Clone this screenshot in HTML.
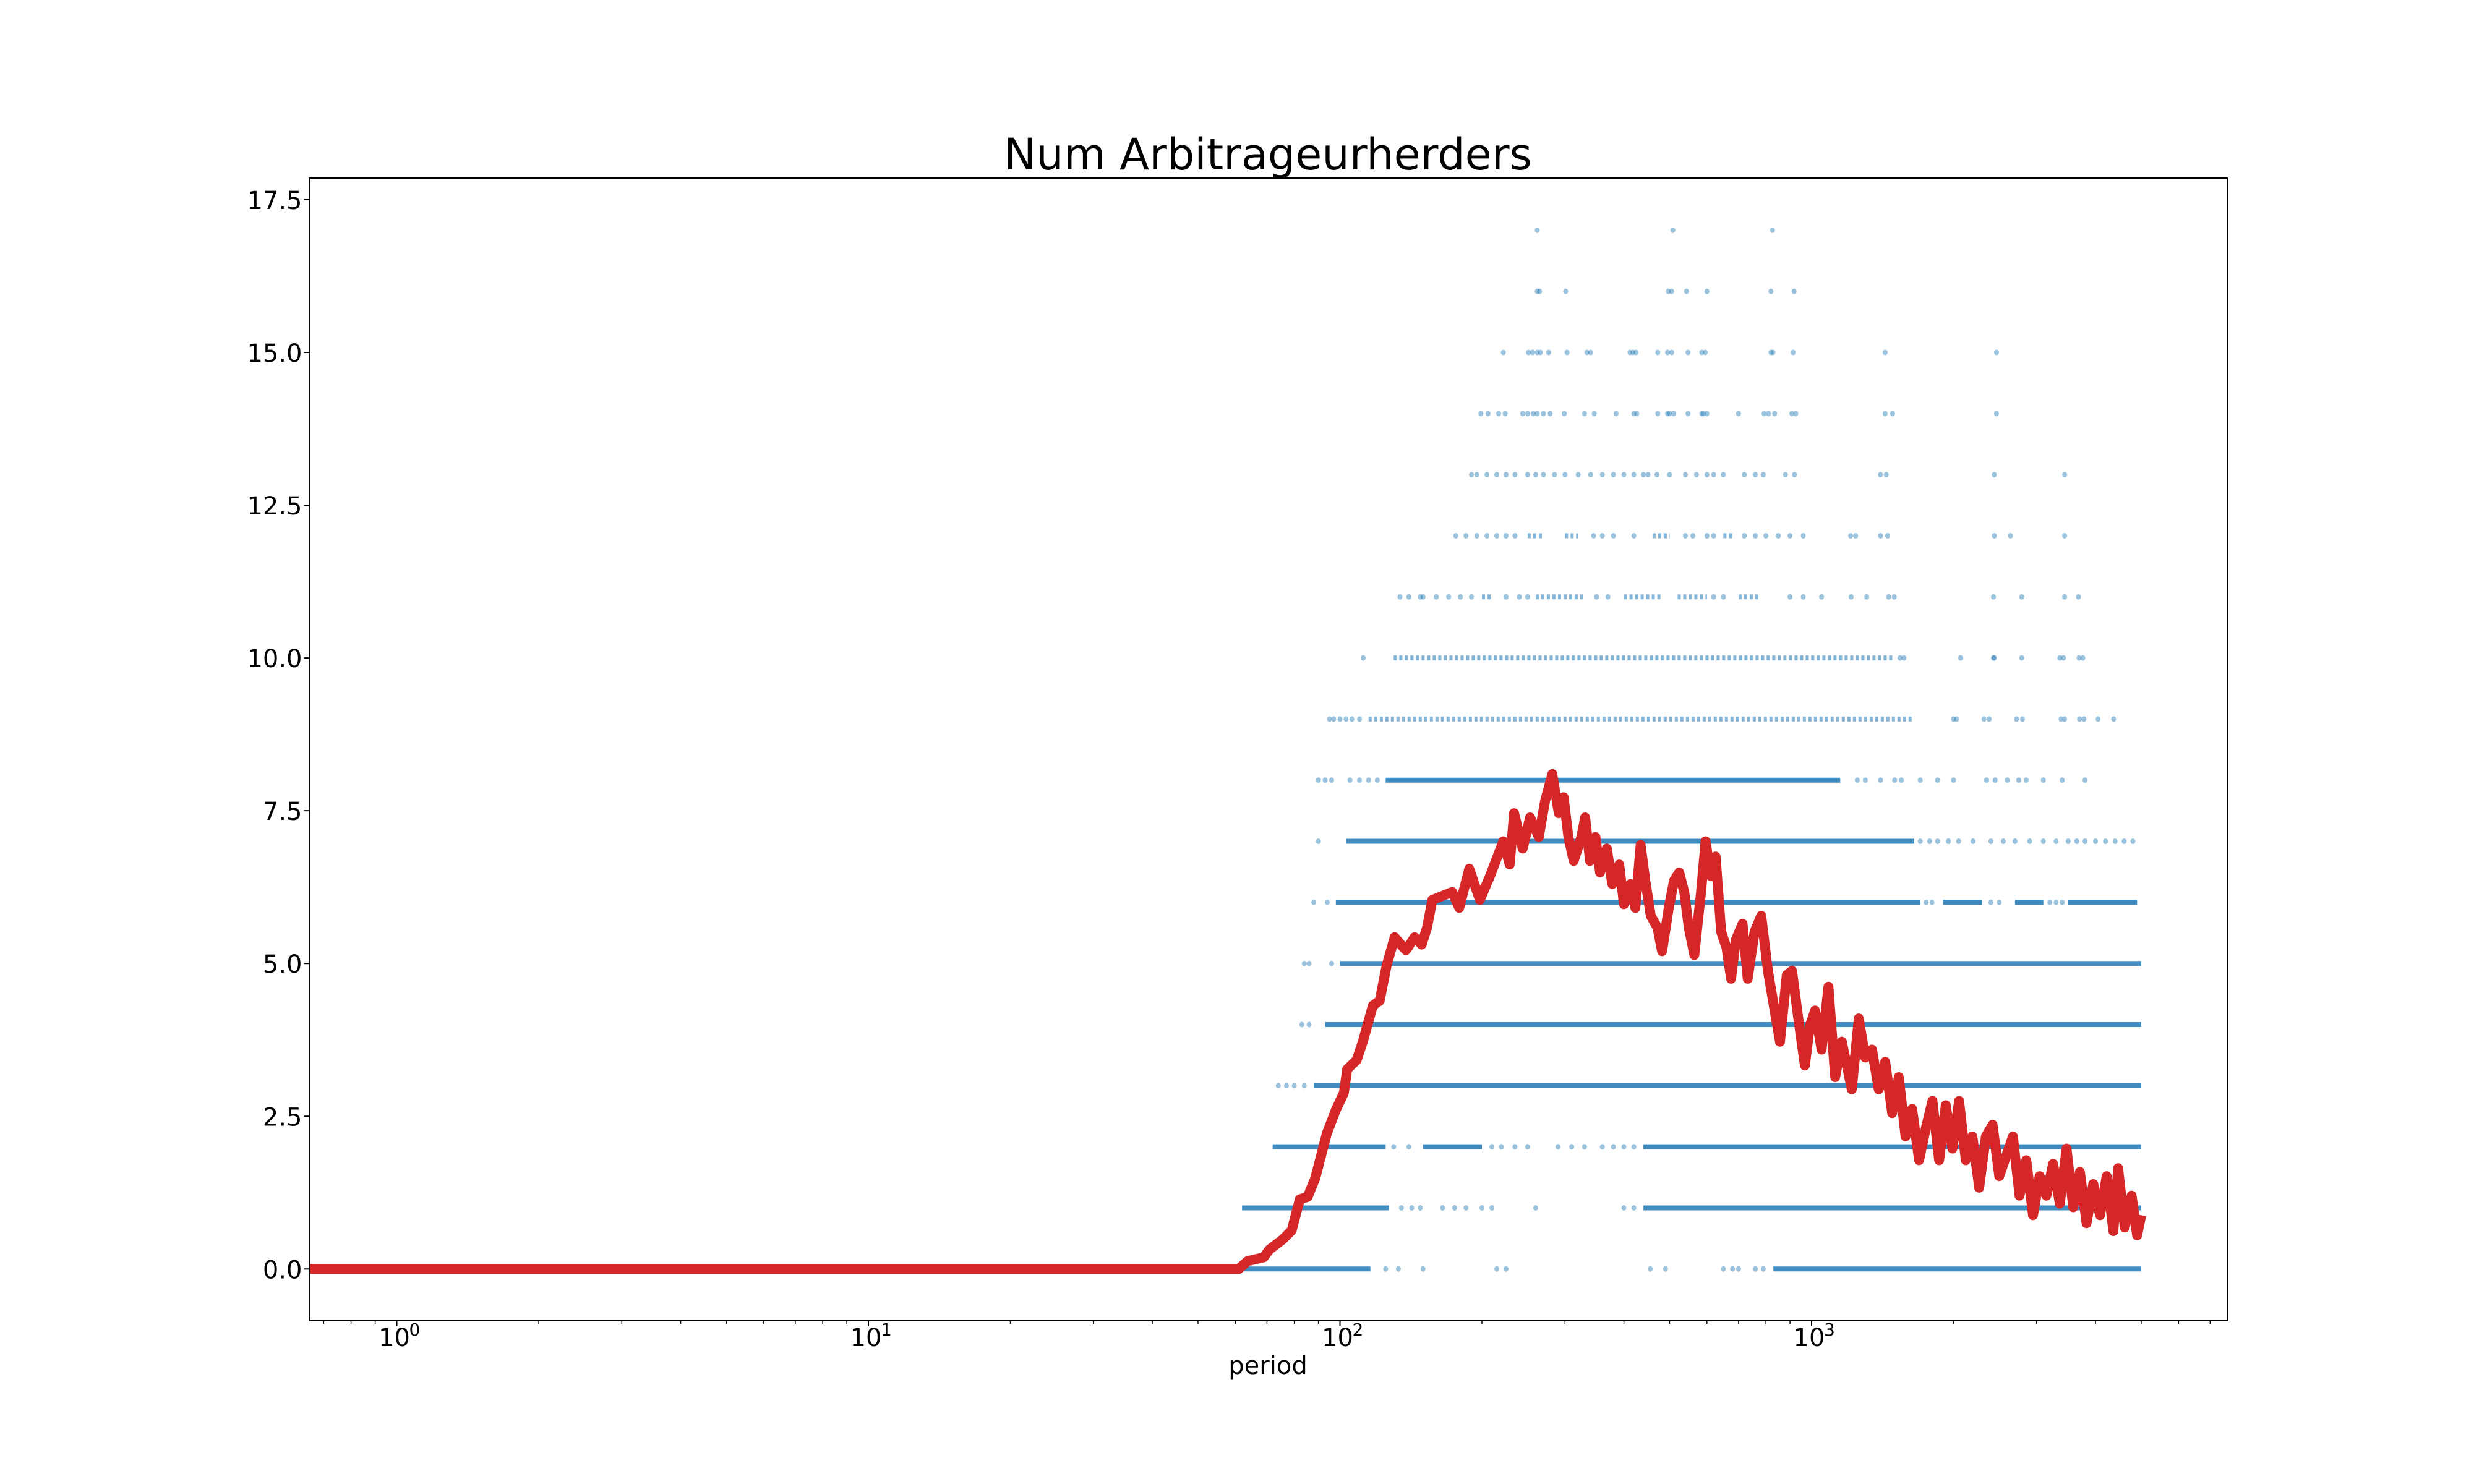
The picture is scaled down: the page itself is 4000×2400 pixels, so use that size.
<!DOCTYPE html>
<html><head><meta charset="utf-8"><style>
html,body{margin:0;padding:0;background:#fff;}
svg{display:block;}
text{font-family:"DejaVu Sans","Liberation Sans",sans-serif;fill:#000;}
</style></head><body>
<svg id="chart" width="4000" height="2400" viewBox="0 0 4000 2400" xmlns="http://www.w3.org/2000/svg">
<rect x="0" y="0" width="4000" height="2400" fill="#fff"/>
<text x="2050" y="274" font-size="70" text-anchor="middle">Num Arbitrageurherders</text>
<text x="2050" y="2222" font-size="40" text-anchor="middle">period</text>
<g id="scatter"></g>
<g id="line"></g>
<g id="axes"></g>
</svg>
<script>
// ---- data ----
const xTickDecades = [0, 1, 2, 3];
const yTickValues = [0, 2.5, 5, 7.5, 10, 12.5, 15, 17.5];
const yTickLabels = ["0.0", "2.5", "5.0", "7.5", "10.0", "12.5", "15.0", "17.5"];
const lineX = [0.6, 61, 63.7, 68.9, 70.9, 75.5, 79, 82.2, 85.4, 88.6, 93.8, 98.1, 101.9, 103.6, 108.5, 111.9, 117.4, 121.4, 125.6, 130.6, 135.7, 138, 144, 149, 153, 157, 173, 179, 188, 198, 208, 214, 222, 229, 234, 244, 253, 264, 272, 282, 291, 298, 305, 313, 325, 331, 339, 348, 356, 368, 378, 391, 400, 413, 423, 434, 444, 456, 471, 482, 498, 511, 524, 537, 549, 564, 583, 596, 612, 626, 643, 660, 675, 691, 714, 732, 757, 782, 808, 835, 857, 886, 909, 937, 968, 991, 1017, 1050, 1086, 1122, 1159, 1217, 1259, 1300, 1343, 1388, 1433, 1482, 1531, 1582, 1634, 1690, 1746, 1804, 1864, 1925, 1989, 2055, 2123, 2193, 2267, 2342, 2420, 2500, 2586, 2672, 2760, 2852, 2948, 3046, 3147, 3252, 3360, 3472, 3587, 3706, 3829, 3956, 4088, 4224, 4364, 4466, 4613, 4770, 4900, 5000];
const lineY = [0, 0, 0.13, 0.19, 0.32, 0.48, 0.63, 1.14, 1.18, 1.48, 2.22, 2.61, 2.88, 3.27, 3.42, 3.73, 4.31, 4.39, 4.97, 5.43, 5.28, 5.22, 5.43, 5.31, 5.59, 6.04, 6.17, 5.91, 6.55, 6.04, 6.43, 6.68, 7.0, 6.62, 7.46, 6.88, 7.39, 7.07, 7.65, 8.1, 7.46, 7.72, 7.07, 6.68, 7.07, 7.39, 6.68, 7.07, 6.49, 6.88, 6.3, 6.62, 5.97, 6.3, 5.91, 6.94, 6.36, 5.78, 5.59, 5.2, 5.91, 6.36, 6.49, 6.17, 5.59, 5.14, 6.17, 7.0, 6.43, 6.75, 5.52, 5.26, 4.75, 5.39, 5.65, 4.75, 5.52, 5.78, 4.88, 4.23, 3.72, 4.81, 4.88, 4.1, 3.33, 3.97, 4.23, 3.59, 4.62, 3.14, 3.72, 2.94, 4.1, 3.46, 3.59, 2.94, 3.39, 2.55, 3.14, 2.17, 2.62, 1.78, 2.3, 2.75, 1.78, 2.68, 1.97, 2.75, 1.78, 2.17, 1.33, 2.17, 2.36, 1.52, 1.85, 2.17, 1.2, 1.78, 0.88, 1.52, 1.2, 1.72, 1.07, 1.97, 1.01, 1.59, 0.75, 1.39, 0.88, 1.52, 0.62, 1.65, 0.68, 1.2, 0.55, 0.88];
const scatterLevels = [0, 1, 2, 3, 4, 5, 6, 7, 8, 9, 10, 11, 12, 13, 14, 15, 16, 17];
const denseRuns = [
  [[61,116],[830,5000]],
  [[62,127],[440,5000]],
  [[72,125],[150,200],[440,5000]],
  [[88,5000]],
  [[93,5000]],
  [[100,5000]],
  [[98,1700],[1900,2300],[2700,3100],[3500,4900]],
  [[103,1650]],
  [[125,1150]],
  [[115,1640]],
  [[130,1500]],
  [[200,210],[260,330],[400,480],[520,600],[700,780]],
  [[250,270],[300,320],[460,500],[650,680]],
  [],
  [],[],[],[]
];
const sparsePoints = [
  [125,133,150,215,225,455,490,650,680,700,760,790],
  [135,142,148,165,175,185,200,210,260,400,420],
  [130,140,210,220,235,250,290,310,330,360,380,400,420],
  [74,77,80,84],
  [83,86],
  [84,86,96],
  [88,94,1750,1800,2400,2500,3200,3300,3400],
  [90,1700,1780,1850,1950,2050,2200,2400,2550,2700,2900,3100,3300,3500,3650,3800,4000,4200,4400,4600,4800],
  [90,93,96,105,110,115,120,1250,1300,1400,1500,1550,1700,1850,2000,2350,2450,2600,2750,2850,3100,3400,3800],
  [95,97,100,103,106,110,2000,2030,2320,2380,2720,2800,3380,3440,3700,3780,4050,4370],
  [112,1540,1570,2070,2430,2440,2790,3360,3420,3690,3760],
  [134,140,148,150,160,170,180,190,225,240,250,350,370,620,650,900,960,1050,1213,1309,1457,1497,2430,2790,3440,3680],
  [176,185,195,205,215,225,235,345,360,380,420,540,560,600,620,720,760,800,850,900,960,1210,1240,1400,1450,2440,2640,3440],
  [190,195,205,215,225,235,250,260,270,285,300,320,340,360,380,400,420,440,450,470,500,540,570,600,620,650,720,760,790,880,920,1400,1440,2440,3440],
  [199,206,217,224,244,250,257,262,270,279,299,330,346,385,420,426,472,495,500,510,547,585,590,600,700,793,810,835,908,926,1432,1485,2466],
  [222,251,256,262,266,277,303,334,340,412,418,424,472,495,505,547,585,595,820,828,914,1432,2466],
  [262,265,301,497,505,543,600,820,918],
  [262,508,826]
];
// ---- axes functions ----
const L = 500.5, R = 3601, T = 288, B = 2136;
const x0px = 641.5, decadePx = 762.5;
const y0px = 2052.3, unitPx = 98.82;
function xs(p){ return x0px + decadePx * Math.log10(p); }
function ys(v){ return y0px - unitPx * v; }
const NS = "http://www.w3.org/2000/svg";
function mk(tag, attrs, parent){ const e = document.createElementNS(NS, tag); for (const k in attrs) e.setAttribute(k, attrs[k]); parent.appendChild(e); return e; }

const cp = mk('clipPath', {id: 'clipAx'}, document.getElementById('chart'));
mk('rect', {x: L, y: T, width: R - L, height: B - T}, cp);

// scatter
const sg = document.getElementById('scatter');
sg.setAttribute('clip-path', 'url(#clipAx)');
scatterLevels.forEach((lvl, i) => {
  const y = ys(lvl);
  denseRuns[i].forEach(run => {
    const xa = xs(run[0]), xb = xs(run[1]);
    const attrs = {x1: xa, x2: xb, y1: y, y2: y, stroke: '#1f77b4', 'stroke-width': 8};
    if (lvl <= 8) { attrs['stroke-opacity'] = 0.85; }
    else { attrs['stroke-opacity'] = 0.55; attrs['stroke-dasharray'] = '5 4'; }
    const seg = mk('line', attrs, sg);
    
    
  });
  sparsePoints[i].forEach(p => {
    const c = mk('ellipse', {cx: xs(p), cy: y, rx: 4, ry: 4.5, fill: '#1f77b4', 'fill-opacity': 0.45}, sg);
    
    
  });
});

// line
const lg = document.getElementById('line');
lg.setAttribute('clip-path', 'url(#clipAx)');
let d = '';
lineX.forEach((p, i) => { d += (i ? 'L' : 'M') + xs(p).toFixed(1) + ',' + ys(lineY[i]).toFixed(1); });
const pathEl = mk('path', {d: d, fill: 'none', stroke: '#d62728', 'stroke-width': 16, 'stroke-linejoin': 'round', 'stroke-linecap': 'butt'}, lg);



// axes
const ag = document.getElementById('axes');
const frame = mk('rect', {x: L, y: T, width: R - L, height: B - T, fill: 'none', stroke: '#000', 'stroke-width': 2}, ag);


yTickValues.forEach((v, i) => {
  const y = ys(v);
  const tk = mk('line', {x1: L - 9, x2: L, y1: y, y2: y, stroke: '#000', 'stroke-width': 2}, ag);
  
  
  const t = mk('text', {x: L - 12, y: y + 15, 'font-size': 40, 'text-anchor': 'end'}, ag);
  t.textContent = yTickLabels[i];
  
  
});
for (let dec = -1; dec <= 3; dec++) {
  for (let m = 2; m <= 9; m++) {
    const x = xs(m * Math.pow(10, dec));
    if (x < L || x > R) continue;
    const mt = mk('line', {x1: x, x2: x, y1: B, y2: B + 5, stroke: '#000', 'stroke-width': 1.5}, ag);
    
    
  }
}
xTickDecades.forEach(dec => {
  const x = xs(Math.pow(10, dec));
  const tk = mk('line', {x1: x, x2: x, y1: B, y2: B + 9, stroke: '#000', 'stroke-width': 2}, ag);
  
  
  const t = mk('text', {x: x - 4, y: 2177, 'font-size': 40, 'text-anchor': 'middle'}, ag);
  t.textContent = '10';
  
  
  const s = mk('text', {x: x + 20, y: 2160, 'font-size': 28, 'text-anchor': 'start'}, ag);
  s.textContent = String(dec);
  
  
});
</script>
</body></html>
